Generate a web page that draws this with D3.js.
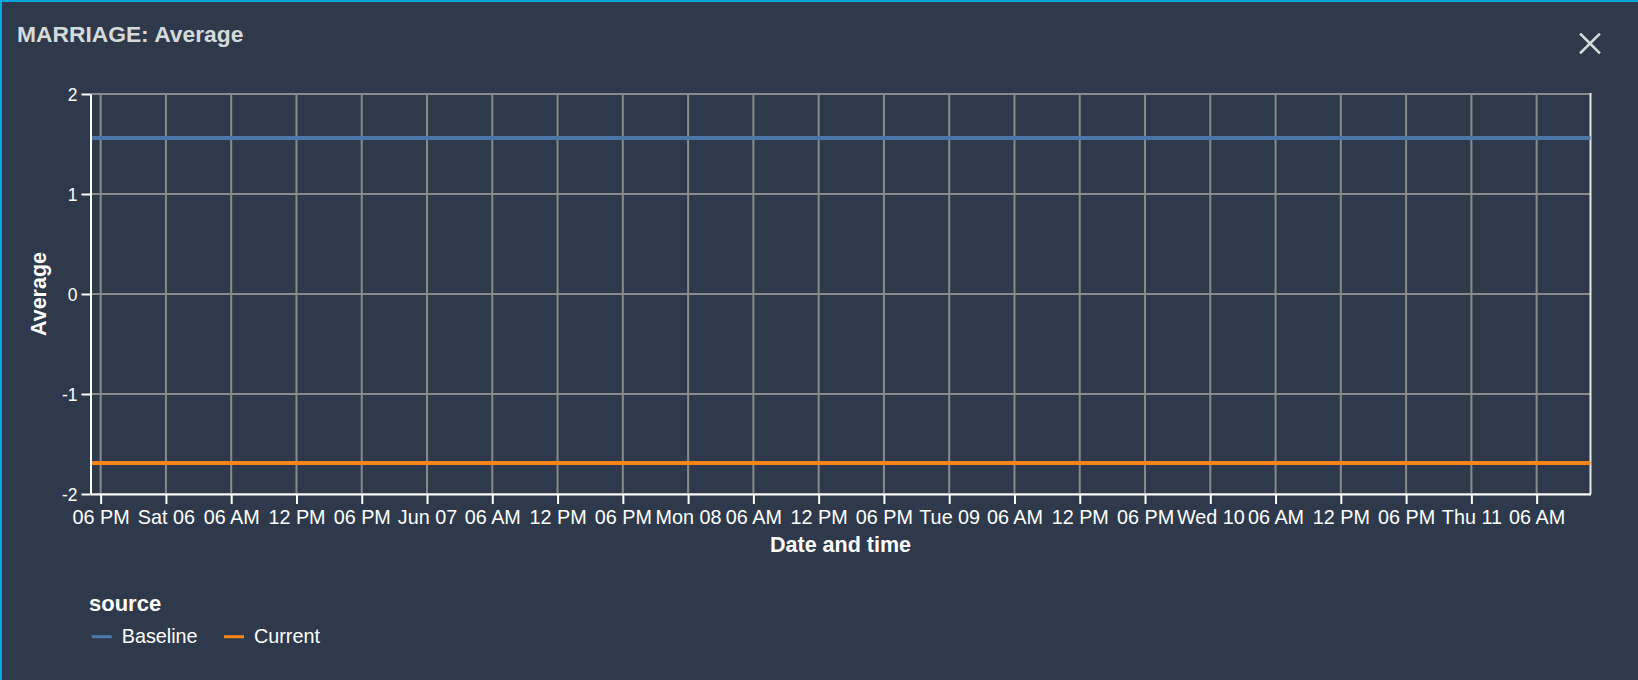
<!DOCTYPE html>
<html>
<head>
<meta charset="utf-8">
<script src="https://cdn.jsdelivr.net/npm/d3@7"></script>
<style>
  html, body { margin: 0; padding: 0; background: #2e3a4b; overflow: hidden; }
  svg { display: block; font-family: "Liberation Sans", Arial, Helvetica, sans-serif; }
</style>
</head>
<body>
<svg id="chart" width="1638" height="680"></svg>
<script>
// ---- data ----
const titleText = "MARRIAGE: Average";
const timestamps = ["2020-06-05T17:04", "2020-06-11T10:57"];
const baselineValues = [1.56, 1.56];
const currentValues = [-1.69, -1.69];
const seriesNames = ["Baseline", "Current"];
const seriesColors = ["#4c78a8", "#f58518"];
const yTickValues = [-2, -1, 0, 1, 2];
const yDomain = [-2, 2];
const xTitle = "Date and time";
const yTitle = "Average";
const legendTitle = "source";

// ---- layout ----
const W = 1638, H = 680;
const plot = { left: 90.5, right: 1590.5, top: 94, bottom: 494 };
const bg = "#2e3a4b";
const gridColor = "#8a8a8a";

const parse = d3.timeParse("%Y-%m-%dT%H:%M");
const dates = timestamps.map(parse);
const series = [
  { name: seriesNames[0], color: seriesColors[0], values: baselineValues },
  { name: seriesNames[1], color: seriesColors[1], values: currentValues }
];

const svg = d3.select("#chart");

// frame
svg.append("rect").attr("x", 0).attr("y", 0).attr("width", W).attr("height", H).attr("fill", bg);
svg.append("rect").attr("x", 0).attr("y", 0).attr("width", W).attr("height", 2).attr("fill", "#00a8e1");
svg.append("rect").attr("x", 0).attr("y", 0).attr("width", 2).attr("height", H).attr("fill", "#00a8e1");

// title
svg.append("text").attr("x", 17).attr("y", 42)
  .attr("font-size", 22.8).attr("font-weight", "bold").attr("fill", "#d5dbdb")
  .text(titleText);

// close icon
const cx = 1590, cy = 43.5, r = 9;
const close = svg.append("g").attr("stroke", "#d5dbdb").attr("stroke-width", 2.6).attr("stroke-linecap", "square");
close.append("line").attr("x1", cx - r).attr("y1", cy - r).attr("x2", cx + r).attr("y2", cy + r);
close.append("line").attr("x1", cx - r).attr("y1", cy + r).attr("x2", cx + r).attr("y2", cy - r);

// scales
const x = d3.scaleTime().domain(d3.extent(dates)).range([plot.left, plot.right]);
const y = d3.scaleLinear().domain(yDomain).range([plot.bottom, plot.top]);
const xTicks = x.ticks(d3.timeHour.every(6));
const xFmt = x.tickFormat();

// grid
const grid = svg.append("g").attr("stroke", gridColor).attr("stroke-width", 2);
grid.selectAll("line.gx").data(xTicks).join("line").attr("class", "gx")
  .attr("x1", d => x(d)).attr("x2", d => x(d)).attr("y1", plot.top).attr("y2", plot.bottom);
grid.selectAll("line.gy").data(yTickValues).join("line").attr("class", "gy")
  .attr("x1", plot.left).attr("x2", plot.right).attr("y1", d => y(d)).attr("y2", d => y(d));

// right edge
svg.append("line").attr("x1", plot.right).attr("x2", plot.right).attr("y1", plot.top - 1).attr("y2", plot.bottom)
  .attr("stroke", "#e6e6e6").attr("stroke-width", 2);

// series lines
const line = d3.line().x((d, i) => x(dates[i])).y(d => y(d));
svg.append("g").selectAll("path").data(series).join("path")
  .attr("d", s => line(s.values))
  .attr("fill", "none").attr("stroke", s => s.color).attr("stroke-width", 4);

// x axis
const xAxis = d3.axisBottom(x).tickValues(xTicks).tickFormat(xFmt).tickSize(10).tickPadding(6).tickSizeOuter(0);
const gx = svg.append("g").attr("transform", `translate(0,${plot.bottom})`).call(xAxis);
gx.select(".domain").attr("stroke", "#fff").attr("stroke-width", 2);
gx.selectAll(".tick line").attr("stroke", "#fff").attr("stroke-width", 2);
gx.selectAll(".tick text").attr("fill", "#fff").attr("font-size", 19.8)
  .attr("font-family", "Liberation Sans, Arial, sans-serif").attr("dy", null).attr("y", 29.5);

// y axis
const yAxis = d3.axisLeft(y).tickValues(yTickValues).tickFormat(d => String(d)).tickSize(9).tickPadding(4).tickSizeOuter(0);
const gy = svg.append("g").attr("transform", `translate(${plot.left},0)`).call(yAxis);
gy.select(".domain").attr("stroke", "#fff").attr("stroke-width", 2);
gy.selectAll(".tick line").attr("stroke", "#fff").attr("stroke-width", 2);
gy.selectAll(".tick text").attr("fill", "#fff").attr("font-size", 17.5)
  .attr("font-family", "Liberation Sans, Arial, sans-serif").attr("dy", "0.36em");

// axis titles
svg.append("text").attr("x", (plot.left + plot.right) / 2).attr("y", 552)
  .attr("text-anchor", "middle").attr("font-size", 21.5).attr("font-weight", "bold").attr("fill", "#fff")
  .text(xTitle);
svg.append("text").attr("transform", `translate(46,${(plot.top + plot.bottom) / 2}) rotate(-90)`)
  .attr("text-anchor", "middle").attr("font-size", 21.5).attr("font-weight", "bold").attr("fill", "#fff")
  .text(yTitle);

// legend
svg.append("text").attr("x", 89).attr("y", 611)
  .attr("font-size", 22).attr("font-weight", "bold").attr("fill", "#fff").text(legendTitle);
const legendX = [91.7, 224];
const items = svg.append("g").selectAll("g").data(series).join("g")
  .attr("transform", (d, i) => `translate(${legendX[i]},636.7)`);
items.append("line").attr("x1", 0).attr("x2", 20).attr("y1", 0).attr("y2", 0)
  .attr("stroke", d => d.color).attr("stroke-width", 3);
items.append("text").attr("x", 30).attr("y", 6).attr("font-size", 19.8).attr("fill", "#fff")
  .text(d => d.name);
</script>
</body>
</html>
